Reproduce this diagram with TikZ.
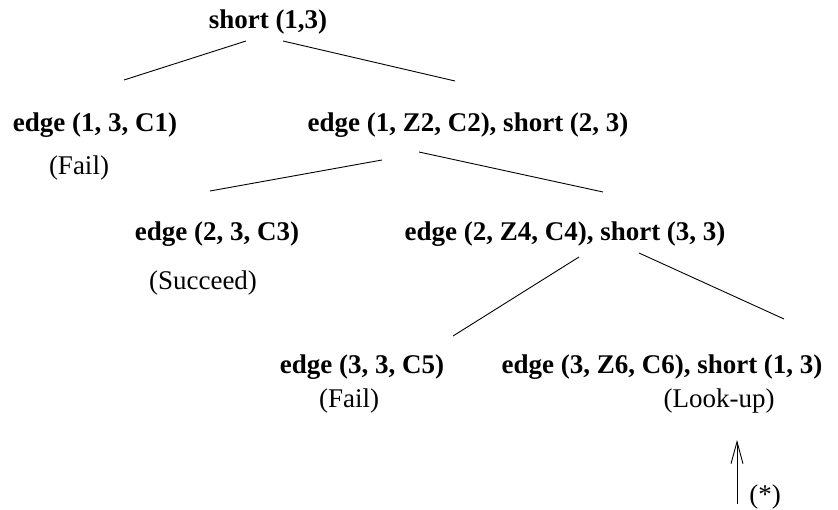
\documentclass[tikz,border=0pt]{standalone}
\usepackage{fontspec}
\setmainfont{Liberation Serif}
\usetikzlibrary{arrows.meta}
\tikzset{
  goal/.style={anchor=base, inner sep=0pt, font=\fontsize{27}{32}\selectfont\bfseries},
  note/.style={anchor=base, inner sep=0pt, font=\fontsize{27}{32}\selectfont},
  branch/.style={line width=0.9pt},
  pointer/.style={line width=0.9pt, -{Straight Barb[length=22pt,width=12pt]}}
}
\begin{document}
\begin{tikzpicture}[x=1pt,y=-1pt]
\useasboundingbox (0,0) rectangle (838,510);
% nodes
\node[goal] (root) at (268,29) {short (1,3)};
\node[goal] (n1) at (95,132) {edge (1, 3, C1)};
\node[note] (f1) at (79,175) {(Fail)};
\node[goal] (n2) at (468,132) {edge (1, Z2, C2), short (2, 3)};
\node[goal] (n3) at (217,241) {edge (2, 3, C3)};
\node[note] (s3) at (203,290) {(Succeed)};
\node[goal] (n4) at (565,241) {edge (2, Z4, C4), short (3, 3)};
\node[goal] (n5) at (362,374) {edge (3, 3, C5)};
\node[note] (f5) at (349,408) {(Fail)};
\node[goal] (n6) at (662,374) {edge (3, Z6, C6), short (1, 3)};
\node[note] (l6) at (719,408) {(Look-up)};
\node[note] (star) at (765,503) {(*)};
% connector end points
\coordinate (root-l) at (246,41);
\coordinate (root-r) at (283,41);
\coordinate (n1-t) at (124,80);
\coordinate (n2-t) at (455,81);
\coordinate (n2-l) at (382,160);
\coordinate (n2-r) at (419,152);
\coordinate (n3-t) at (210,191);
\coordinate (n4-t) at (603,192);
\coordinate (n4-l) at (579,257);
\coordinate (n4-r) at (639,253);
\coordinate (n5-t) at (453,336);
\coordinate (n6-t) at (784,319);
\coordinate (ptr-s) at (737,504);
\coordinate (ptr-e) at (737,440);
% connectors
\draw[branch] (root-l) -- (n1-t);
\draw[branch] (root-r) -- (n2-t);
\draw[branch] (n2-l) -- (n3-t);
\draw[branch] (n2-r) -- (n4-t);
\draw[branch] (n4-l) -- (n5-t);
\draw[branch] (n4-r) -- (n6-t);
\draw[pointer] (ptr-s) -- (ptr-e);
\end{tikzpicture}
\end{document}
